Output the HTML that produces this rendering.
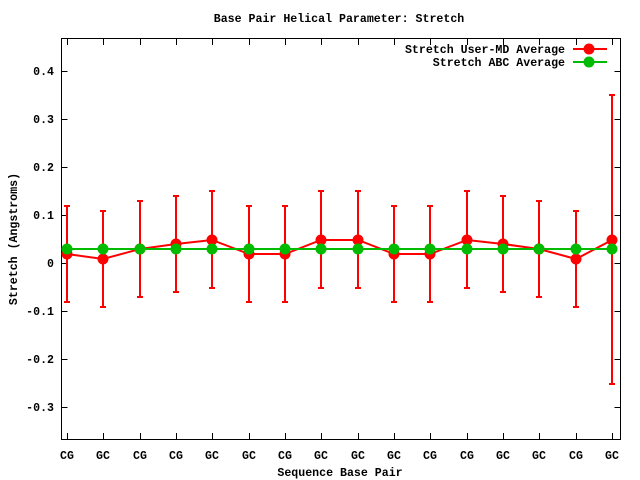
<!DOCTYPE html><html><head><style>body{margin:0;background:#fff}svg{display:block}text{font-family:"Liberation Mono",monospace;font-weight:bold;font-size:11.6px;fill:#000}</style></head><body>
<svg width="640" height="480" xmlns="http://www.w3.org/2000/svg">
<rect width="640" height="480" fill="#fff"/>
<text x="339" y="22" text-anchor="middle">Base Pair Helical Parameter: Stretch</text>
<g stroke="#000" stroke-width="1">
<rect x="61.5" y="38.5" width="559" height="401" fill="none"/>
<path d="M61.5 71.5h6M61.5 119.5h6M61.5 167.5h6M61.5 215.5h6M61.5 263.5h6M61.5 311.5h6M61.5 359.5h6M61.5 407.5h6M620.5 71.5h-6M620.5 119.5h-6M620.5 167.5h-6M620.5 215.5h-6M620.5 263.5h-6M620.5 311.5h-6M620.5 359.5h-6M620.5 407.5h-6"/>
<path d="M67.5 439v-6M103.5 439v-6M140.5 439v-6M176.5 439v-6M212.5 439v-6M249.5 439v-6M285.5 439v-6M321.5 439v-6M358.5 439v-6M394.5 439v-6M430.5 439v-6M467.5 439v-6M503.5 439v-6M539.5 439v-6M576.5 439v-6M612.5 439v-6M67.5 39v6M103.5 39v6M140.5 39v6M176.5 39v6M212.5 39v6M249.5 39v6M285.5 39v6M321.5 39v6M358.5 39v6M394.5 39v6M430.5 39v6M467.5 39v6M503.5 39v6M539.5 39v6M576.5 39v6M612.5 39v6"/>
</g>
<g text-anchor="end">
<text x="54" y="75">0.4</text><text x="54" y="123">0.3</text><text x="54" y="171">0.2</text><text x="54" y="219">0.1</text><text x="54" y="267">0</text><text x="54" y="315">-0.1</text><text x="54" y="363">-0.2</text><text x="54" y="411">-0.3</text>
</g>
<g text-anchor="middle">
<text x="67" y="459">CG</text><text x="103" y="459">GC</text><text x="140" y="459">CG</text><text x="176" y="459">CG</text><text x="212" y="459">GC</text><text x="249" y="459">GC</text><text x="285" y="459">CG</text><text x="321" y="459">GC</text><text x="358" y="459">GC</text><text x="394" y="459">GC</text><text x="430" y="459">CG</text><text x="467" y="459">CG</text><text x="503" y="459">GC</text><text x="539" y="459">GC</text><text x="576" y="459">CG</text><text x="612" y="459">GC</text>
<text x="340" y="476">Sequence Base Pair</text>
</g>
<text transform="translate(17,239) rotate(-90)" text-anchor="middle">Stretch (Angstroms)</text>
<g stroke="#f00" stroke-width="2" fill="none">
<path d="M67 206V302M103 211V307M140 201V297M176 196V292M212 191V288M249 206V302M285 206V302M321 191V288M358 191V288M394 206V302M430 206V302M467 191V288M503 196V292M539 201V297M576 211V307M612 95V384"/>
<path d="M64 206h6M64 302h6M100 211h6M100 307h6M137 201h6M137 297h6M173 196h6M173 292h6M209 191h6M209 288h6M246 206h6M246 302h6M282 206h6M282 302h6M318 191h6M318 288h6M355 191h6M355 288h6M391 206h6M391 302h6M427 206h6M427 302h6M464 191h6M464 288h6M500 196h6M500 292h6M536 201h6M536 297h6M573 211h6M573 307h6M609 95h6M609 384h6"/>
<polyline points="67,254 103,259 140,249 176,244 212,240 249,254 285,254 321,240 358,240 394,254 430,254 467,240 503,244 539,249 576,259 612,240"/>
<path d="M573 49h34"/>
</g>
<g fill="#f00">
<circle cx="67" cy="254" r="5.5"/><circle cx="103" cy="259" r="5.5"/><circle cx="140" cy="249" r="5.5"/><circle cx="176" cy="244" r="5.5"/><circle cx="212" cy="240" r="5.5"/><circle cx="249" cy="254" r="5.5"/><circle cx="285" cy="254" r="5.5"/><circle cx="321" cy="240" r="5.5"/><circle cx="358" cy="240" r="5.5"/><circle cx="394" cy="254" r="5.5"/><circle cx="430" cy="254" r="5.5"/><circle cx="467" cy="240" r="5.5"/><circle cx="503" cy="244" r="5.5"/><circle cx="539" cy="249" r="5.5"/><circle cx="576" cy="259" r="5.5"/><circle cx="612" cy="240" r="5.5"/><circle cx="589" cy="49" r="5.5"/>
</g>
<g stroke="#0b0" stroke-width="2"><path d="M67 249H612M573 62h34"/></g>
<g fill="#0b0">
<circle cx="67" cy="249" r="5.5"/><circle cx="103" cy="249" r="5.5"/><circle cx="140" cy="249" r="5.5"/><circle cx="176" cy="249" r="5.5"/><circle cx="212" cy="249" r="5.5"/><circle cx="249" cy="249" r="5.5"/><circle cx="285" cy="249" r="5.5"/><circle cx="321" cy="249" r="5.5"/><circle cx="358" cy="249" r="5.5"/><circle cx="394" cy="249" r="5.5"/><circle cx="430" cy="249" r="5.5"/><circle cx="467" cy="249" r="5.5"/><circle cx="503" cy="249" r="5.5"/><circle cx="539" cy="249" r="5.5"/><circle cx="576" cy="249" r="5.5"/><circle cx="612" cy="249" r="5.5"/><circle cx="589" cy="62" r="5.5"/>
</g>
<g text-anchor="end"><text x="565" y="53">Stretch User-MD Average</text><text x="565" y="66">Stretch ABC Average</text></g>
</svg></body></html>
